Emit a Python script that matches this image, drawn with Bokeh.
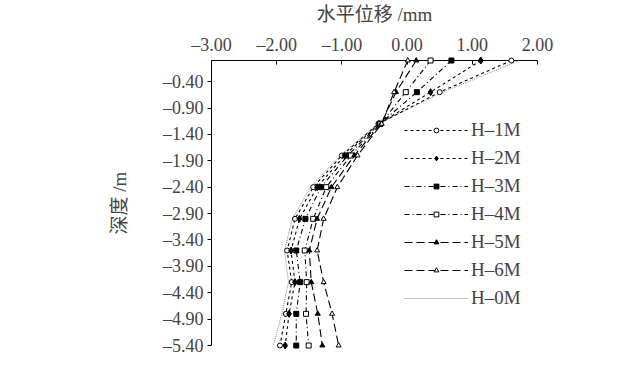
from bokeh.plotting import figure
from bokeh.models import Range1d, FixedTicker, Legend, LegendItem
from bokeh.embed import file_html
from bokeh.resources import INLINE

depth = [0.0, -0.6, -1.2, -1.8, -2.4, -3.0, -3.6, -4.2, -4.8, -5.4]
h1m = [1.60, 0.50, -0.44, -1.00, -1.44, -1.72, -1.84, -1.77, -1.86, -1.95]
h2m = [1.13, 0.36, -0.43, -0.96, -1.38, -1.65, -1.78, -1.72, -1.81, -1.87]
h3m = [0.68, 0.15, -0.42, -0.91, -1.32, -1.56, -1.70, -1.64, -1.70, -1.70]
h4m = [0.36, -0.02, -0.41, -0.86, -1.24, -1.44, -1.57, -1.54, -1.55, -1.51]
h5m = [0.14, -0.17, -0.40, -0.81, -1.16, -1.38, -1.50, -1.47, -1.37, -1.30]
h6m = [0.01, -0.20, -0.39, -0.76, -1.07, -1.28, -1.38, -1.28, -1.15, -1.05]
h0m = [1.72, 0.55, -0.45, -1.03, -1.48, -1.76, -1.88, -1.82, -1.92, -2.05]

x_ticks = [-3.0, -2.0, -1.0, 0.0, 1.0, 2.0]
y_ticks = [-0.4, -0.9, -1.4, -1.9, -2.4, -2.9, -3.4, -3.9, -4.4, -4.9, -5.4]

SERIF = "Liberation Serif"
MIXED = "'Liberation Serif', 'Noto Sans CJK SC'"

p = figure(width=624, height=361, output_backend="svg", toolbar_location=None,
           x_axis_location="above", x_range=Range1d(-3.0, 2.0), y_range=Range1d(-5.4, 0.0),
           min_border_left=211, min_border_right=87, min_border_top=60, min_border_bottom=16)
p.outline_line_color = None
p.grid.visible = False
p.background_fill_color = "white"

def lab(v):
    s = "%.2f" % v
    return s.replace("-", "\u2013")

xa = p.xaxis[0]
xa.ticker = FixedTicker(ticks=x_ticks)
xa.major_label_overrides = {v: lab(v) for v in x_ticks}
xa.axis_label = "水平位移 /mm"
xa.axis_label_text_font = MIXED
xa.axis_label_text_font_style = "normal"
xa.axis_label_text_font_size = "19px"
xa.axis_label_standoff = 7
xa.major_label_text_font = SERIF
xa.major_label_text_font_size = "18px"
xa.major_label_standoff = 6
xa.major_tick_in = 4
xa.major_tick_out = 0
xa.minor_tick_in = 0
xa.minor_tick_out = 0
xa.axis_line_color = "black"
xa.major_tick_line_color = "black"

ya = p.yaxis[0]
ya.ticker = FixedTicker(ticks=y_ticks)
ya.major_label_overrides = {v: lab(v) for v in y_ticks}
ya.axis_label = "深度 /m"
ya.axis_label_text_font = MIXED
ya.axis_label_text_font_style = "normal"
ya.axis_label_text_font_size = "19px"
ya.axis_label_standoff = 30
ya.major_label_text_font = SERIF
ya.major_label_text_font_size = "18px"
ya.major_label_standoff = 4
ya.major_tick_in = 0
ya.major_tick_out = 4
ya.minor_tick_in = 0
ya.minor_tick_out = 0

series = [
    ("H\u20131M", h1m, "3 3", "circle", "white"),
    ("H\u20132M", h2m, "3 3", "diamond", "black"),
    ("H\u20133M", h3m, "5 3 1 3", "square", "black"),
    ("H\u20134M", h4m, "5 3 1 3", "square", "white"),
    ("H\u20135M", h5m, "8 4", "triangle", "black"),
    ("H\u20136M", h6m, "8 4", "triangle", "white"),
]

items = []
r0 = p.line(h0m, depth, line_color="#8a8a8a", line_width=1, line_dash="1 1", level="overlay")
for name, xs, dash, marker, fill in series:
    rl = p.line(xs, depth, line_color="black", line_width=1.1, line_dash=dash, level="overlay")
    size = 7 if marker == "diamond" else 5
    rs = p.scatter(xs, depth, marker=marker, size=size, line_color="black", fill_color=fill,
                   line_width=1, level="overlay")
    items.append(LegendItem(label=name, renderers=[rl, rs]))
items.append(LegendItem(label="H\u20130M", renderers=[r0]))

legend = Legend(items=items, location=(193, 36), glyph_width=64, glyph_height=12,
                spacing=6, padding=0, margin=0, label_standoff=3,
                label_text_font=SERIF, label_text_font_size="19px",
                background_fill_alpha=0, border_line_color=None)
p.add_layout(legend, "center")

open("out.html", "w").write(file_html(p, INLINE))
